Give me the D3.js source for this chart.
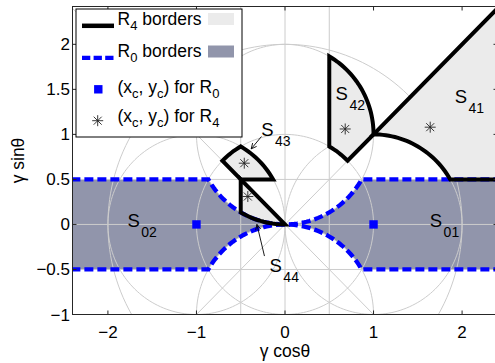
<!DOCTYPE html>
<html><head><meta charset="utf-8">
<script src="https://cdn.jsdelivr.net/npm/d3@7"></script>
<style>
body{margin:0;background:#fff}
svg{display:block}
text{font-family:"Liberation Sans",Arial,Helvetica,sans-serif;fill:#000}
</style>
</head><body>
<svg id="c" width="495" height="363"></svg>
<script>
// ---------- data ----------
const xTicks = [-2, -1, 0, 1, 2];
const xTickLabels = ["\u22122", "\u22121", "0", "1", "2"];
const yTicks = [-1, -0.5, 0, 0.5, 1, 1.5, 2];
const yTickLabels = ["\u22121", "\u22120.5", "0", "0.5", "1", "1.5", "2"];
const xDomain = [-2.4, 2.4];
const yDomain = [-1, 2.42];
const r0Centroids = [[1, 0], [-1, 0]];
const r4Centroids = [[1.64, 1.08], [0.68, 1.06], [-0.46, 0.68], [-0.42, 0.31]];
// guide circles: [cx, cy, r]
const guideCircles = [[0, 0, 1], [0, 0, 2], [1, 0, 1], [-1, 0, 1], [0, 1, 1], [0, -1, 1]];
// guide lines: pairs of points
const guideLines = [
  [[-3, -3], [3, 3]], [[-3, 3], [3, -3]],
  [[0, -2], [0, 3]], [[-0.5, -2], [-0.5, 3]], [[0.5, -2], [0.5, 3]],
  [[-3, 0], [3, 0]], [[-3, 0.5], [3, 0.5]], [[-3, -0.5], [3, -0.5]]
];
// region boundaries: L = polyline points, A = arc [cx, cy, r, deg0, deg1]
const regionS01 = [{A: [0, 1, 1, -90, -30]}, {L: [[3, 0.5], [3, -0.5]]}, {A: [0, -1, 1, 30, 90]}];
const regionS02 = [{A: [0, 1, 1, -90, -150]}, {L: [[-3, 0.5], [-3, -0.5]]}, {A: [0, -1, 1, 150, 90]}];
const r0BorderUpper = [{L: [[-3, 0.5]]}, {A: [0, 1, 1, -150, -30]}, {L: [[3, 0.5]]}];
const r0BorderLower = [{L: [[-3, -0.5]]}, {A: [0, -1, 1, 150, 30]}, {L: [[3, -0.5]]}];
const regionS41 = [{L: [[1, 1], [3, 3], [3, 0.5]]}, {A: [1, 0, 1, 30, 90]}];
const regionS42 = [{A: [0, 0, 1, 60, 45]}, {L: [[1, 1]]}, {A: [0, 1, 1, 0, 60]}];
const regionS43 = [{L: [[-0.5, 0.5]]}, {A: [0, 0, 1, 135, 120]}, {A: [-1, 0, 1, 60, 30]}];
const regionS44 = [{L: [[-0.5, 0.5], [-0.5, 0.134]]}, {A: [0, 1, 1, -120, -90]}];
// labels: [name, x, y]
const regionLabels = [["41", 1.917, 1.353], ["42", 0.571, 1.386], ["43", -0.269, 0.987],
                      ["44", -0.175, -0.532], ["02", -1.78, -0.033], ["01", 1.635, -0.033]];
// arrows: [[fromX, fromY], [toX, toY]]
const arrows = [[[-0.266, 0.976], [-0.382, 0.839]], [[-0.232, -0.351], [-0.317, 0.0]]];

// ---------- setup ----------
const plot = {left: 72.5, right: 497.5, top: 6.5, bottom: 314.5};
const x = d3.scaleLinear().domain(xDomain).range([plot.left, plot.right]);
const y = d3.scaleLinear().domain(yDomain).range([plot.bottom, plot.top]);
const svg = d3.select("#c");

const LIGHT = "#ebebeb", DARK = "#9195ab", BLUE = "#0000ff", GUIDE = "#cccccc";

svg.append("defs").append("clipPath").attr("id", "clip")
  .append("rect").attr("x", plot.left).attr("y", plot.top)
  .attr("width", plot.right - plot.left).attr("height", plot.bottom - plot.top);

function arcPts(cx, cy, r, a0, a1) {
  const n = Math.max(8, Math.ceil(Math.abs(a1 - a0) / 2));
  const out = [];
  for (let i = 0; i <= n; i++) {
    const a = (a0 + (a1 - a0) * i / n) * Math.PI / 180;
    out.push([cx + r * Math.cos(a), cy + r * Math.sin(a)]);
  }
  return out;
}
function segPts(segs) {
  let pts = [];
  segs.forEach(s => { if (s.L) pts = pts.concat(s.L); else pts = pts.concat(arcPts(...s.A)); });
  return pts;
}
const line = d3.line().x(d => x(d[0])).y(d => y(d[1]));

const g = svg.append("g").attr("clip-path", "url(#clip)");

// dark R0 fills
[regionS01, regionS02].forEach(r => {
  g.append("path").attr("d", line(segPts(r)) + "Z").attr("fill", DARK).attr("stroke", "none");
});
// guide circles and lines
guideCircles.forEach(c => {
  g.append("path").attr("d", line(arcPts(c[0], c[1], c[2], 0, 360)))
    .attr("fill", "none").attr("stroke", GUIDE).attr("stroke-width", 1);
});
guideLines.forEach(l => {
  g.append("path").attr("d", line(l)).attr("fill", "none").attr("stroke", GUIDE).attr("stroke-width", 1);
});
// light R4 fills
const r4Regions = [regionS41, regionS42, regionS43, regionS44];
r4Regions.forEach(r => {
  g.append("path").attr("d", line(segPts(r)) + "Z").attr("fill", LIGHT).attr("stroke", "none");
});
// R0 borders (blue dashed)
[r0BorderUpper, r0BorderLower].forEach(b => {
  g.append("path").attr("d", line(segPts(b))).attr("fill", "none")
    .attr("stroke", BLUE).attr("stroke-width", 4.3).attr("stroke-dasharray", "9,4");
});
// R4 borders (black)
r4Regions.forEach(r => {
  g.append("path").attr("d", line(segPts(r)) + "Z").attr("fill", "none")
    .attr("stroke", "#000").attr("stroke-width", 4).attr("stroke-linejoin", "miter").attr("stroke-miterlimit", 3);
});
// markers
function square(sel, cx, cy) {
  sel.append("rect").attr("x", cx - 4.2).attr("y", cy - 4.2).attr("width", 8.4).attr("height", 8.4).attr("fill", BLUE);
}
function star(sel, cx, cy) {
  const s = 5.5, d = 4;
  const p = `M${cx - s},${cy}L${cx + s},${cy}M${cx},${cy - s}L${cx},${cy + s}` +
            `M${cx - d},${cy - d}L${cx + d},${cy + d}M${cx - d},${cy + d}L${cx + d},${cy - d}`;
  sel.append("path").attr("d", p).attr("stroke", "#222").attr("stroke-width", 0.9).attr("fill", "none");
}
r0Centroids.forEach(p => square(g, x(p[0]), y(p[1])));
r4Centroids.forEach(p => star(g, x(p[0]), y(p[1])));

// region labels
regionLabels.forEach(([sub, lx, ly]) => {
  const t = svg.append("text").attr("x", x(lx)).attr("y", y(ly)).attr("font-size", 18.5);
  t.append("tspan").text("S");
  t.append("tspan").attr("dx", 1.5).attr("dy", 10).attr("font-size", 14).text(sub);
});
// arrows
arrows.forEach(([f, t]) => {
  const x1 = x(f[0]), y1 = y(f[1]), x2 = x(t[0]), y2 = y(t[1]);
  const ang = Math.atan2(y2 - y1, x2 - x1), L = 6, spread = 0.45;
  svg.append("path")
    .attr("d", `M${x1},${y1}L${x2},${y2}M${x2 - L * Math.cos(ang - spread)},${y2 - L * Math.sin(ang - spread)}L${x2},${y2}L${x2 - L * Math.cos(ang + spread)},${y2 - L * Math.sin(ang + spread)}`)
    .attr("fill", "none").attr("stroke", "#000").attr("stroke-width", 0.9);
});

// ---------- axes ----------
const ax = svg.append("g");
ax.append("rect").attr("x", plot.left).attr("y", plot.top)
  .attr("width", plot.right - plot.left).attr("height", plot.bottom - plot.top)
  .attr("fill", "none").attr("stroke", "#262626").attr("stroke-width", 1);
const TL = 4;
xTicks.forEach((v, i) => {
  const px = x(v);
  ax.append("line").attr("x1", px).attr("x2", px).attr("y1", plot.bottom).attr("y2", plot.bottom - TL).attr("stroke", "#262626");
  ax.append("line").attr("x1", px).attr("x2", px).attr("y1", plot.top).attr("y2", plot.top + TL).attr("stroke", "#262626");
  ax.append("text").attr("x", px).attr("y", 337.5).attr("text-anchor", "middle").attr("font-size", 17).text(xTickLabels[i]);
});
yTicks.forEach((v, i) => {
  const py = y(v);
  ax.append("line").attr("y1", py).attr("y2", py).attr("x1", plot.left).attr("x2", plot.left + TL).attr("stroke", "#262626");
  ax.append("line").attr("y1", py).attr("y2", py).attr("x1", plot.right).attr("x2", plot.right - TL).attr("stroke", "#262626");
  ax.append("text").attr("x", 70).attr("y", py + 6).attr("text-anchor", "end").attr("font-size", 17).text(yTickLabels[i]);
});
ax.append("text").attr("x", 285).attr("y", 356.5).attr("text-anchor", "middle").attr("font-size", 17.5).text("\u03b3 cos\u03b8");
ax.append("text").attr("transform", `translate(24,${(plot.top + plot.bottom) / 2}) rotate(-90)`)
  .attr("text-anchor", "middle").attr("font-size", 17.5).text("\u03b3 sin\u03b8");

// ---------- legend ----------
const lg = svg.append("g");
lg.append("rect").attr("x", 76).attr("y", 9).attr("width", 166).attr("height", 128)
  .attr("fill", "#fff").attr("stroke", "#000").attr("stroke-width", 1);
lg.append("line").attr("x1", 82).attr("x2", 114).attr("y1", 25.8).attr("y2", 25.8).attr("stroke", "#000").attr("stroke-width", 4.5);
lg.append("line").attr("x1", 82).attr("x2", 114).attr("y1", 57.8).attr("y2", 57.8).attr("stroke", BLUE).attr("stroke-width", 4.3).attr("stroke-dasharray", "8.3,3.3");
square(lg, 98.3, 89.3);
star(lg, 97.7, 120.7);
lg.append("rect").attr("x", 208).attr("y", 13).attr("width", 26).attr("height", 12).attr("fill", LIGHT);
lg.append("rect").attr("x", 208).attr("y", 45.5).attr("width", 26).attr("height", 12).attr("fill", DARK);
const legendRows = [
  {y: 25, parts: [["R", 0], ["4", 1], [" borders", 0]]},
  {y: 57, parts: [["R", 0], ["0", 1], [" borders", 0]]},
  {y: 93, parts: [["(x", 0], ["c", 1], [", y", 0], ["c", 1], [") for R", 0], ["0", 1]]},
  {y: 121.5, parts: [["(x", 0], ["c", 1], [", y", 0], ["c", 1], [") for R", 0], ["4", 1]]}
];
legendRows.forEach(row => {
  const t = lg.append("text").attr("x", 117.5).attr("y", row.y).attr("font-size", 17.5);
  let sub = false;
  row.parts.forEach(([s, isSub]) => {
    const ts = t.append("tspan").text(s);
    if (isSub && !sub) { ts.attr("dy", 5).attr("font-size", 13); sub = true; }
    else if (isSub) { ts.attr("font-size", 13); }
    else if (!isSub && sub) { ts.attr("dy", -5); sub = false; }
  });
});
</script>
</body></html>
